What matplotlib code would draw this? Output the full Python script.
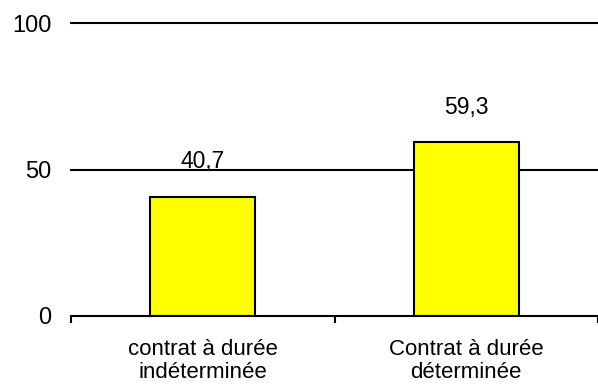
import matplotlib
matplotlib.use("Agg")
import matplotlib.pyplot as plt

categories = ["contrat à durée\nindéterminée", "Contrat à durée\ndéterminée"]
values = [40.7, 59.3]
value_labels = ["40,7", "59,3"]
yticks = [0, 50, 100]

plt.rcParams['font.family'] = ['Liberation Sans', 'DejaVu Sans']

fig = plt.figure(figsize=(5.98, 3.90), dpi=100)
ax = fig.add_axes([71/598, 74/390, 1 - 71/598, (316 - 23)/390])

x = list(range(len(categories)))
ax.bar(x, values, width=0.4, color='#FFFF00', edgecolor='black', linewidth=1.5, zorder=3)

for xi, v, lab in zip(x, values, value_labels):
    ax.annotate(lab, (xi, v), xytext=(0, 20.5), textcoords='offset points',
                ha='center', va='baseline', fontsize=16.5, zorder=4)

ax.set_xlim(-0.5, len(categories) - 0.5)
ax.set_ylim(0, 100)
ax.set_yticks(yticks)
ax.set_yticklabels([str(t) for t in yticks], fontsize=17)
ax.tick_params(axis='y', length=0, pad=14)
for t in yticks[1:]:
    ax.axhline(t, color='black', linewidth=1.5, zorder=1, clip_on=False)

ax.set_xticks([i - 0.5 for i in range(len(categories) + 1)])
ax.set_xticklabels([])
ax.set_xticks(x, minor=True)
ax.set_xticklabels(categories, minor=True, fontsize=16, linespacing=1.12)
ax.tick_params(axis='x', which='major', direction='out', length=5, width=1.5)
ax.tick_params(axis='x', which='minor', length=0, pad=16.5)

for s in ['left', 'right', 'top']:
    ax.spines[s].set_visible(False)
ax.spines['bottom'].set_linewidth(1.5)
ax.spines['bottom'].set_zorder(5)

fig.savefig('out.png', dpi=100)
